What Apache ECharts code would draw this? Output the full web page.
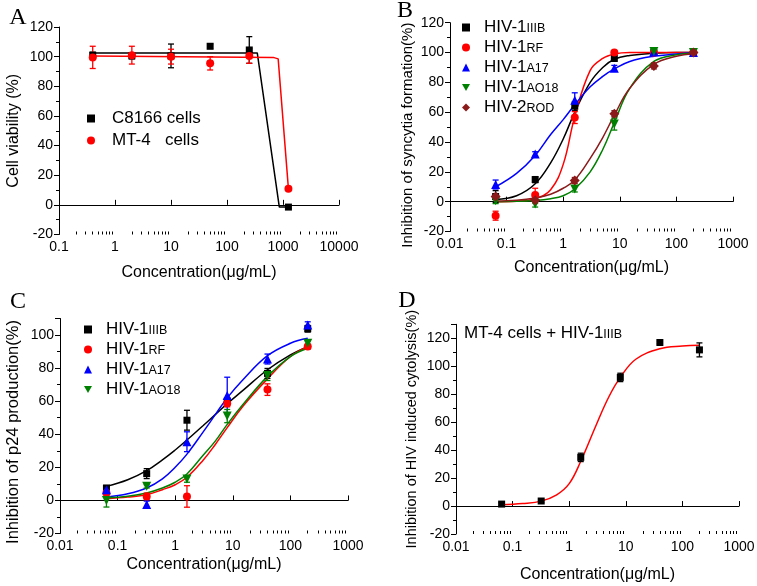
<!DOCTYPE html>
<html>
<head>
<meta charset="utf-8">
<script src="https://cdn.jsdelivr.net/npm/echarts@6/dist/echarts.min.js"></script>
<style>
  html, body { margin: 0; background: #fff; }
  #chart { width: 757px; height: 586px; }
</style>
</head>
<body>
<div id="chart"></div>
<script>
// ---- panel A: cytotoxicity ----
const concA = [0.4, 2, 10, 50, 250, 1250];
const c8166 = [101, 100.5, 100.5, 107, 104.5, -1.5];
const c8166Err = [2, 2, 8, 1.5, 9, 1];
const mt4 = [99.5, 101, 100, 95.5, 100.5, 10.8];
const mt4Err = [7.5, 6, 5, 4.5, 5, 1];
const fitC8166X = [0.4, 347, 860, 1250];
const fitC8166Y = [102.5, 102.5, -1.5, -1.5];
const fitMt4X = [0.4, 670, 820, 1250];
const fitMt4Y = [100.5, 99.5, 98.5, 10.8];

// ---- panels B, C, D share the dilution series ----
const conc = [0.064, 0.32, 1.6, 8, 40, 200];
const fitX = [0.064, 0.15, 0.32, 0.6, 1, 1.6, 3, 5, 8, 15, 40, 100, 200];

// B: syncytia formation
const bIIIB = [3.4, 14.8, 64, 96, 100, 100];
const bIIIBErr = [4, 2, 3, 1, 1, 1];
const bRF = [-9.4, 4.5, 56.4, 100, 100, 100];
const bRFErr = [3, 4.5, 4, 1, 1, 1];
const bA17 = [11.5, 32, 68, 89.4, 100.7, 100];
const bA17Err = [3, 1.5, 5, 2, 1, 1];
const bAO18 = [0.7, -1.6, 8.5, 52, 100.7, 100];
const bAO18Err = [2, 2, 2, 4, 1, 1];
const bROD = [3.4, 1, 14.2, 59, 91, 100];
const bRODErr = [2, 2, 2, 2, 2, 1];
const bFitIIIB = [1.5, 4, 12, 26, 42, 60, 80, 90, 95.5, 98, 99.5, 100, 100];
const bFitRF = [0, 0.3, 2, 8, 25, 57, 88, 96, 99, 100, 100, 100, 100];
const bFitA17 = [10, 19, 31, 45, 55, 65, 77, 84, 89, 94, 97.5, 99, 100];
const bFitAO18 = [0, 0.2, 0.8, 2, 4, 8.5, 20, 35, 53, 76, 94, 98.5, 99.5];
const bFitROD = [0.5, 1, 2.5, 5, 9, 14.5, 29, 43, 58, 76, 92, 97.5, 99];

// C: p24 production
const cIIIB = [7.5, 16.2, 48.5, 60, 76.8, 103.8];
const cIIIBErr = [1.5, 3, 6, 2, 3, 2];
const cRF = [4.5, 2.4, 2.4, 58.6, 67, 93];
const cRFErr = [2, 2, 6.5, 2, 3.5, 1.5];
const cA17 = [6.5, -2.4, 35.5, 63.5, 85.5, 106];
const cA17Err = [2, 2, 6, 11, 3, 2];
const cAO18 = [0, 8.5, 13, 51, 75.5, 95];
const cAO18Err = [4, 1, 2, 4, 3, 1.5];
const cFitIIIB = [8.5, 12.5, 18, 24.5, 30.5, 36.5, 45, 52, 58.5, 66.5, 79, 88, 93];
const cFitRF = [1, 2, 3.5, 6.5, 9.5, 14, 24, 34, 44, 57, 73.5, 87, 93];
const cFitA17 = [2, 4, 7.5, 13, 20, 28, 41, 52, 62, 73, 87.5, 95, 98];
const cFitAO18 = [1.5, 2.5, 4.5, 7.5, 11, 16, 27, 36, 46, 58, 75, 87, 92];

// D: HIV induced cytolysis
const dIIIB = [1.4, 3.6, 34.8, 92, 117, 111.7];
const dIIIBErr = [1, 1, 3, 3, 1, 5];
const dFit = [1, 1.8, 3.5, 8, 16, 32, 58, 78, 92, 105, 112.5, 114.5, 115];

const FONT = 'Liberation Sans, Arial, sans-serif';
const BLACK = '#000000', RED = '#ff0000', BLUE = '#0000ff', GREEN = '#008000', WINE = '#8b1a1a';
const DOWN_TRI = 'path://M0,0L10,0L5,9Z';

function minorLogTicks(k0, k1) {
  const out = [];
  for (let k = k0; k <= k1; k++) {
    for (let m = 2; m <= 9; m++) out.push(+(m * Math.pow(10, k)).toPrecision(6));
  }
  return out;
}

function mainX(grid, min, max, gap) {
  return {
    type: 'log', logBase: 10, gridIndex: grid, min: min, max: max, position: 'bottom',
    name: 'Concentration(μg/mL)', nameLocation: 'middle', nameGap: gap,
    nameTextStyle: { fontFamily: FONT, fontSize: 16, color: '#000' },
    axisLine: { show: true, lineStyle: { color: '#000', width: 1 } },
    axisTick: { show: true, inside: true, length: 5, lineStyle: { color: '#000' } },
    axisLabel: {
      fontFamily: FONT, fontSize: 14, color: '#000', margin: 6,
      formatter: v => String(+(+v).toPrecision(6))
    },
    splitLine: { show: false }
  };
}

function minorX(grid, min, max, k0, k1) {
  return {
    type: 'log', logBase: 10, gridIndex: grid, min: min, max: max, position: 'bottom',
    axisLine: { show: false }, axisLabel: { show: false }, splitLine: { show: false },
    axisTick: { show: true, inside: true, length: 3, customValues: minorLogTicks(k0, k1),
      lineStyle: { color: '#000' } }
  };
}

// shift moves the rotated title down along the axis (px)
function mkY(grid, min, max, name, gap, size, shift) {
  return {
    type: 'value', gridIndex: grid, min: min, max: max, interval: 20,
    name: name, nameLocation: 'middle', nameGap: gap,
    nameTextStyle: { fontFamily: FONT, fontSize: size, color: '#000',
      padding: [0, 2 * shift, 0, 0] },
    axisLine: { show: true, lineStyle: { color: '#000', width: 1 } },
    axisTick: { show: true, length: 5, lineStyle: { color: '#000' } },
    minorTick: { show: true, splitNumber: 2, length: 3, lineStyle: { color: '#000' } },
    axisLabel: { fontFamily: FONT, fontSize: 14, color: '#000', margin: 6,
      showMaxLabel: max % 20 === 0 },
    splitLine: { show: false }
  };
}

function points(name, xs, ys, color, symbol, size, grid) {
  return {
    type: 'scatter', name: name, xAxisIndex: grid, yAxisIndex: grid,
    data: xs.map((x, i) => [x, ys[i]]),
    symbol: symbol, symbolSize: size,
    itemStyle: { color: color, opacity: 1 }, z: 4
  };
}

function fit(xs, ys, color, grid, smooth) {
  return {
    type: 'line', xAxisIndex: grid, yAxisIndex: grid,
    data: xs.map((x, i) => [x, ys[i]]),
    symbol: 'none', smooth: smooth, silent: true,
    lineStyle: { color: color, width: 1.5 }, z: 2
  };
}

function renderErr(params, api) {
  const lo = api.coord([api.value(0), api.value(1)]);
  const hi = api.coord([api.value(0), api.value(2)]);
  const w = 3;
  const style = { stroke: api.visual('color'), lineWidth: 1.3 };
  return {
    type: 'group',
    children: [
      { type: 'line', shape: { x1: lo[0], y1: lo[1], x2: hi[0], y2: hi[1] }, style: style },
      { type: 'line', shape: { x1: lo[0] - w, y1: lo[1], x2: lo[0] + w, y2: lo[1] }, style: style },
      { type: 'line', shape: { x1: hi[0] - w, y1: hi[1], x2: hi[0] + w, y2: hi[1] }, style: style }
    ]
  };
}

function errs(xs, ys, es, color, grid) {
  return {
    type: 'custom', xAxisIndex: grid, yAxisIndex: grid, silent: true,
    itemStyle: { color: color },
    data: xs.map((x, i) => [x, ys[i] - es[i], ys[i] + es[i]]),
    encode: { x: 0, y: [1, 2] },
    renderItem: renderErr, z: 3
  };
}

// big "HIV-1" + small-caps strain suffix (top padding drops it onto the baseline)
const hivRich = {
  a: { fontFamily: FONT, fontSize: 17, color: '#000', padding: [0, 0, 0, 9] },
  b: { fontFamily: FONT, fontSize: 12.5, color: '#000', padding: [3, 0, 0, 0] }
};
const hivFormatter = n => '{a|' + n.slice(0, 5) + '}{b|' + n.slice(5) + '}';

const chart = echarts.init(document.getElementById('chart'));
chart.setOption({
  backgroundColor: '#fff',
  animation: false,
  grid: [
    { left: 59, top: 27, width: 280, height: 207.5, outerBoundsMode: 'none' },
    { left: 450, top: 22.7, width: 283, height: 208.8, outerBoundsMode: 'none' },
    { left: 60, top: 318.5, width: 288, height: 215, outerBoundsMode: 'none' },
    { left: 456, top: 324.3, width: 283, height: 209.7, outerBoundsMode: 'none' }
  ],
  xAxis: [
    mainX(0, 0.1, 10000, 30),
    mainX(1, 0.01, 1000, 28),
    mainX(2, 0.01, 1000, 23),
    mainX(3, 0.01, 1000, 33),
    minorX(0, 0.1, 10000, -1, 3),
    minorX(1, 0.01, 1000, -2, 2),
    minorX(2, 0.01, 1000, -2, 2),
    minorX(3, 0.01, 1000, -2, 2)
  ],
  yAxis: [
    mkY(0, -20, 120, 'Cell viability (%)', 37, 16, 0),
    mkY(1, -20, 120, 'Inhibition of syncytia formation(%)', 35, 15, 8),
    mkY(2, -20, 110, 'Inhibition of p24 production(%)', 38, 16.5, 6),
    mkY(3, -20, 130, 'Inhibition of HIV induced cytolysis(%)', 37, 14.5, 0)
  ],
  legend: [
    {
      orient: 'vertical', left: 87, top: 110, padding: 0, itemWidth: 8, itemHeight: 8, itemGap: 5,
      data: ['C8166 cells', 'MT-4   cells'],
      formatter: '{t|{name}}',
      textStyle: { rich: { t: { fontFamily: FONT, fontSize: 17, color: '#000', padding: [0, 0, 0, 12] } } }
    },
    {
      orient: 'vertical', left: 462, top: 19, padding: 0, itemWidth: 8, itemHeight: 8, itemGap: 3,
      data: ['HIV-1IIIB', 'HIV-1RF', 'HIV-1A17', 'HIV-1AO18', 'HIV-2ROD'],
      formatter: hivFormatter, textStyle: { rich: hivRich }
    },
    {
      orient: 'vertical', left: 84, top: 321, padding: 0, itemWidth: 8, itemHeight: 8, itemGap: 3,
      data: ['HIV-1IIIB', 'HIV-1RF', 'HIV-1A17', 'HIV-1AO18'],
      formatter: hivFormatter, textStyle: { rich: hivRich }
    }
  ],
  graphic: [
    { type: 'text', style: { x: 18, y: 18, text: 'A', font: '24px "Liberation Serif"', fill: '#000', align: 'center', verticalAlign: 'middle' } },
    { type: 'text', style: { x: 405, y: 11, text: 'B', font: '24px "Liberation Serif"', fill: '#000', align: 'center', verticalAlign: 'middle' } },
    { type: 'text', style: { x: 18, y: 302, text: 'C', font: '24px "Liberation Serif"', fill: '#000', align: 'center', verticalAlign: 'middle' } },
    { type: 'text', style: { x: 407, y: 301, text: 'D', font: '24px "Liberation Serif"', fill: '#000', align: 'center', verticalAlign: 'middle' } },
    {
      type: 'text',
      style: {
        x: 464, y: 333, verticalAlign: 'middle',
        text: '{a|MT-4 cells + HIV-1}{b|IIIB}',
        rich: {
          a: { fontFamily: FONT, fontSize: 17, fill: '#000' },
          b: { fontFamily: FONT, fontSize: 12.5, fill: '#000', padding: [3, 0, 0, 0] }
        }
      }
    }
  ],
  series: [
    // A
    fit(fitC8166X, fitC8166Y, BLACK, 0, false),
    fit(fitMt4X, fitMt4Y, RED, 0, false),
    errs(concA, c8166, c8166Err, BLACK, 0),
    errs(concA, mt4, mt4Err, RED, 0),
    points('C8166 cells', concA, c8166, BLACK, 'rect', 7, 0),
    points('MT-4   cells', concA, mt4, RED, 'circle', 8, 0),
    // B
    fit(fitX, bFitIIIB, BLACK, 1, 0.4),
    fit(fitX, bFitRF, RED, 1, 0.4),
    fit(fitX, bFitA17, BLUE, 1, 0.4),
    fit(fitX, bFitAO18, GREEN, 1, 0.4),
    fit(fitX, bFitROD, WINE, 1, 0.4),
    errs(conc, bIIIB, bIIIBErr, BLACK, 1),
    errs(conc, bRF, bRFErr, RED, 1),
    errs(conc, bA17, bA17Err, BLUE, 1),
    errs(conc, bAO18, bAO18Err, GREEN, 1),
    errs(conc, bROD, bRODErr, WINE, 1),
    points('HIV-1IIIB', conc, bIIIB, BLACK, 'rect', 7, 1),
    points('HIV-1RF', conc, bRF, RED, 'circle', 8, 1),
    points('HIV-1A17', conc, bA17, BLUE, 'triangle', 9, 1),
    points('HIV-1AO18', conc, bAO18, GREEN, DOWN_TRI, 9, 1),
    points('HIV-2ROD', conc, bROD, WINE, 'diamond', 10, 1),
    // C
    fit(fitX, cFitIIIB, BLACK, 2, 0.4),
    fit(fitX, cFitRF, RED, 2, 0.4),
    fit(fitX, cFitA17, BLUE, 2, 0.4),
    fit(fitX, cFitAO18, GREEN, 2, 0.4),
    errs(conc, cIIIB, cIIIBErr, BLACK, 2),
    errs(conc, cRF, cRFErr, RED, 2),
    errs(conc, cA17, cA17Err, BLUE, 2),
    errs(conc, cAO18, cAO18Err, GREEN, 2),
    points('HIV-1IIIB', conc, cIIIB, BLACK, 'rect', 7, 2),
    points('HIV-1RF', conc, cRF, RED, 'circle', 8, 2),
    points('HIV-1A17', conc, cA17, BLUE, 'triangle', 9, 2),
    points('HIV-1AO18', conc, cAO18, GREEN, DOWN_TRI, 9, 2),
    // D
    fit(fitX, dFit, RED, 3, 0.4),
    errs(conc, dIIIB, dIIIBErr, BLACK, 3),
    points('dIIIB', conc, dIIIB, BLACK, 'rect', 7, 3)
  ]
});
</script>
</body>
</html>
